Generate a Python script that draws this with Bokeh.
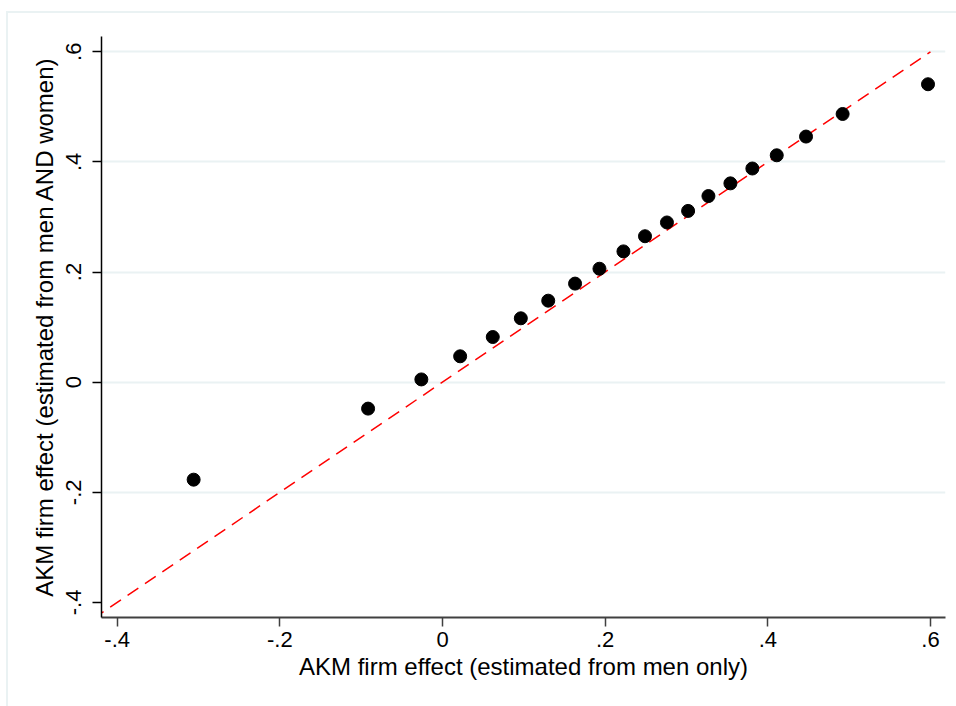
from bokeh.embed import file_html
from bokeh.models import CustomJSTickFormatter, FixedTicker, Range1d
from bokeh.plotting import figure
from bokeh.resources import INLINE

# binned firm effects: estimated from men only (x) vs men and women (y)
x_men = [-0.306, -0.0915, -0.026, 0.0217, 0.0618, 0.0963, 0.130, 0.163, 0.193, 0.2225,
         0.249, 0.276, 0.302, 0.327, 0.354, 0.381, 0.411, 0.447, 0.492, 0.597]
y_both = [-0.177, -0.048, 0.005, 0.047, 0.082, 0.116, 0.148, 0.179, 0.206, 0.2375,
          0.265, 0.290, 0.311, 0.338, 0.361, 0.388, 0.412, 0.446, 0.487, 0.541]

diag = [-0.43, 0.6]
x_ticks = [-0.4, -0.2, 0, 0.2, 0.4, 0.6]
y_ticks = [-0.4, -0.2, 0, 0.2, 0.4, 0.6]
y_grid = [-0.2, 0, 0.2, 0.4, 0.6]

FONT = "Liberation Sans"
GRID = "#eaf2f3"

p = figure(width=956, height=706, output_backend="svg", toolbar_location=None,
           x_range=Range1d(-0.4193, 0.6185), y_range=Range1d(-0.4273, 0.6277),
           min_border_left=101, min_border_right=11, min_border_top=36, min_border_bottom=89)
p.outline_line_color = None
p.background_fill_color = "white"
p.border_fill_color = None

# outer graph region edge (top and left), drawn behind the transparent canvas
line = f"linear-gradient({GRID}, {GRID})"
p.styles = {
    "background": f"{line} 7px 11px / 100% 2px no-repeat, "
                  f"{line} 6px 11px / 2px 100% no-repeat, white",
}

fmt = CustomJSTickFormatter(code="""
    var s = tick.toFixed(1);
    if (s == "0.0" || s == "-0.0") { return "0"; }
    return s.replace("0.", ".");
""")

p.xaxis.ticker = FixedTicker(ticks=x_ticks)
p.yaxis.ticker = FixedTicker(ticks=y_ticks)
p.xaxis.formatter = fmt
p.yaxis.formatter = fmt

p.xgrid.grid_line_color = None
p.ygrid.ticker = FixedTicker(ticks=y_grid)
p.ygrid.grid_line_color = GRID
p.ygrid.grid_line_width = 2

p.xaxis.axis_label = "AKM firm effect (estimated from men only)"
p.yaxis.axis_label = "AKM firm effect (estimated from men AND women)"

for ax in (p.xaxis, p.yaxis):
    ax.axis_label_text_font = FONT
    ax.axis_label_text_font_style = "normal"
    ax.axis_label_text_font_size = "24px"
    ax.axis_label_text_color = "black"
    ax.major_label_text_font = FONT
    ax.major_label_text_color = "black"
    ax.major_tick_out = 9
    ax.major_tick_in = 0
    ax.minor_tick_out = 0
    ax.minor_tick_in = 0

p.xaxis.major_label_text_font_size = "22px"
p.xaxis.axis_line_color = "#404040"
p.xaxis.axis_line_width = 2
p.xaxis.major_tick_line_color = "#404040"
p.xaxis.major_tick_line_width = 1.5
p.xaxis.major_label_standoff = 5
p.xaxis.axis_label_standoff = 3

p.yaxis.major_label_text_font_size = "22px"
p.yaxis.major_label_orientation = "vertical"
p.yaxis.axis_line_color = "black"
p.yaxis.axis_line_width = 1.5
p.yaxis.major_tick_line_color = "black"
p.yaxis.major_tick_line_width = 1.5
p.yaxis.major_label_standoff = 11
p.yaxis.axis_label_standoff = 6

p.line(diag, diag, line_color="red", line_width=1.5, line_dash="13 8")
p.scatter(x_men, y_both, size=13, fill_color="black", line_color="black")

open("out.html", "w").write(file_html(p, INLINE))
